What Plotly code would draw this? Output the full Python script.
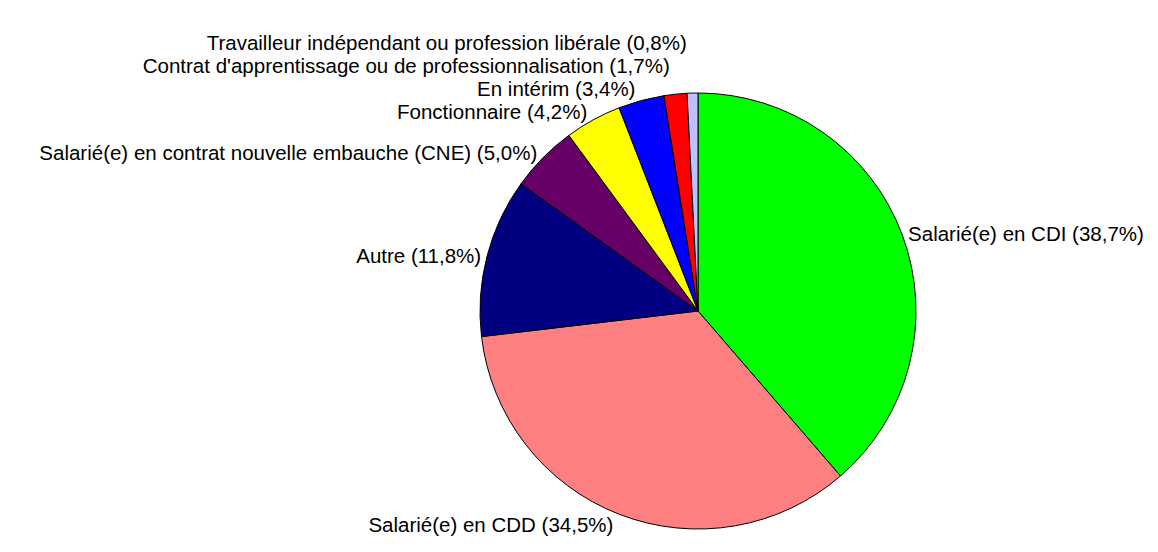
import plotly.graph_objects as go

labels = [
    "Salarié(e) en CDI",
    "Salarié(e) en CDD",
    "Autre",
    "Salarié(e) en contrat nouvelle embauche (CNE)",
    "Fonctionnaire",
    "En intérim",
    "Contrat d'apprentissage ou de professionnalisation",
    "Travailleur indépendant ou profession libérale",
]
values = [38.7, 34.5, 11.8, 5.0, 4.2, 3.4, 1.7, 0.8]
colors = ["#00FF00", "#FF8080", "#000080", "#660066", "#FFFF00", "#0000FF", "#FF0000", "#C0C0FF"]

texts = [f"{l} ({str(v).replace('.', ',')}%)" for l, v in zip(labels, values)]

# page body has an 8px margin, so compensate in the domain
cx, cy, r = 690, 552 - 303, 218

fig = go.Figure(go.Pie(
    labels=labels,
    values=values,
    text=texts,
    textinfo="text",
    textposition="outside",
    sort=False,
    direction="clockwise",
    rotation=0,
    marker=dict(colors=colors, line=dict(color="black", width=1)),
    textfont=dict(family="Liberation Sans, Arial, sans-serif", size=20.5, color="black"),
    domain=dict(x=[(cx - r) / 1158, (cx + r) / 1158], y=[(cy - r) / 552, (cy + r) / 552]),
    hoverinfo="label+percent",
    automargin=False,
))

fig.update_layout(
    width=1158, height=552,
    margin=dict(l=0, r=0, t=0, b=0),
    paper_bgcolor="white",
    showlegend=False,
)

fig.write_html(
    "out.html",
    post_script="document.querySelectorAll('path.textline').forEach(function(e){e.style.display='none';});",
)
